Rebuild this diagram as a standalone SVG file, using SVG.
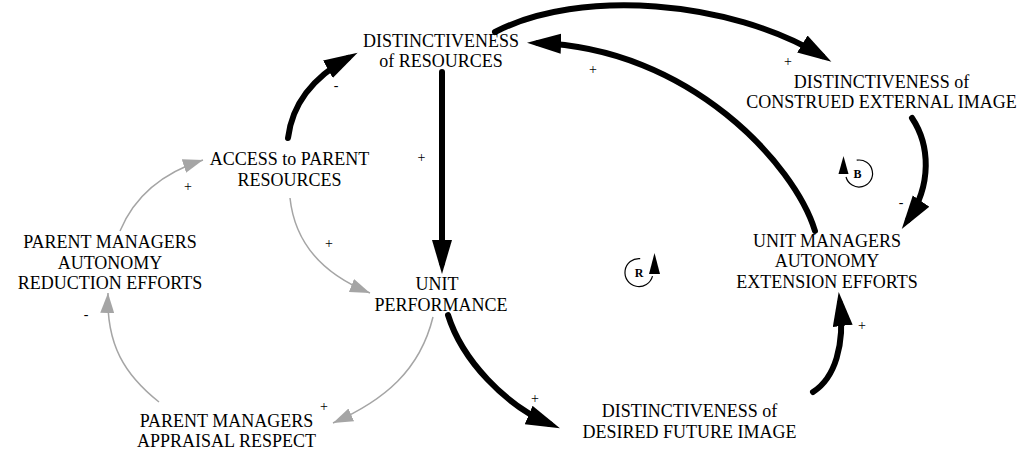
<svg xmlns="http://www.w3.org/2000/svg" width="1021" height="454" viewBox="0 0 1021 454">
<style>
.node text{font-family:"Liberation Serif","Times New Roman",serif;font-size:18px;fill:#000;text-anchor:middle}
.sign{font-family:"Liberation Serif","Times New Roman",serif;font-size:14px;fill:#000;text-anchor:middle}
.thick{fill:none;stroke:#000;stroke-width:6;stroke-linecap:round;marker-end:url(#hk)}
.thin{fill:none;stroke:#a5a5a5;stroke-width:1.5;marker-end:url(#hg)}
.loop path{fill:none;stroke:#000;stroke-width:1.2}
.loop text{font-family:"Liberation Serif","Times New Roman",serif;font-size:12px;font-weight:bold;text-anchor:middle}
</style>
<defs>
<marker id="hk" markerUnits="userSpaceOnUse" markerWidth="36" markerHeight="22" refX="23" refY="10" orient="auto">
<path d="M0,0 L34,10 L0,20 z" fill="#000"/>
</marker>
<marker id="hg" markerUnits="userSpaceOnUse" markerWidth="22" markerHeight="14" refX="20" refY="7" orient="auto">
<path d="M0,0 L20,7 L0,14 z" fill="#a5a5a5"/>
</marker>
</defs>
<rect width="1021" height="454" fill="#fff"/>
<g id="connectors">
<path class="thick" d="M288,138 C292,105 312,78 348,58"/>
<path class="thick" d="M442,72 L442,263"/>
<path class="thick" d="M448,315 C462,360 505,405 549.8,424"/>
<path class="thick" d="M813,392 C835,378 845,345 840,303"/>
<path class="thick" d="M815,231 C795,165 690,48 538,43"/>
<path class="thick" d="M495,32 C580,-12 730,0 822,56"/>
<path class="thick" d="M912,118 C930,145 932,185 908,220"/>
<path class="thin" d="M290,198 C295,245 325,275 370,293"/>
<path class="thin" d="M120,231 C135,195 165,172 203,160"/>
<path class="thin" d="M159,402 C125,375 106,345 108,293"/>
<path class="thin" d="M433,317 C420,370 385,400 333,423"/>
<text class="sign" x="336" y="90">-</text>
<text class="sign" x="421.5" y="161.5">+</text>
<text class="sign" x="329" y="247.5">+</text>
<text class="sign" x="188" y="191">+</text>
<text class="sign" x="86" y="318.5">-</text>
<text class="sign" x="324" y="410.5">+</text>
<text class="sign" x="535" y="403">+</text>
<text class="sign" x="862" y="329.5">+</text>
<text class="sign" x="593" y="74">+</text>
<text class="sign" x="788" y="65.5">+</text>
<text class="sign" x="901" y="206.5">-</text>
</g>
<g id="node-distinctiveness-resources" class="node">
<text x="441" y="47">DISTINCTIVENESS</text>
<text x="441" y="67">of RESOURCES</text>
</g>
<g id="node-construed-external-image" class="node">
<text x="881.5" y="88">DISTINCTIVENESS of</text>
<text x="881.5" y="108">CONSTRUED EXTERNAL IMAGE</text>
</g>
<g id="node-access-parent-resources" class="node">
<text x="289.5" y="165">ACCESS to PARENT</text>
<text x="289.5" y="186">RESOURCES</text>
</g>
<g id="node-parent-autonomy-reduction" class="node">
<text x="110" y="248">PARENT MANAGERS</text>
<text x="110" y="268.5">AUTONOMY</text>
<text x="110" y="289">REDUCTION EFFORTS</text>
</g>
<g id="node-unit-performance" class="node">
<text x="437" y="290">UNIT</text>
<text x="441" y="310.5">PERFORMANCE</text>
</g>
<g id="node-unit-autonomy-extension" class="node">
<text x="827" y="246.5">UNIT MANAGERS</text>
<text x="827" y="267">AUTONOMY</text>
<text x="827" y="287.5">EXTENSION EFFORTS</text>
</g>
<g id="node-desired-future-image" class="node">
<text x="689.5" y="417">DISTINCTIVENESS of</text>
<text x="689.5" y="438">DESIRED FUTURE IMAGE</text>
</g>
<g id="node-parent-appraisal-respect" class="node">
<text x="226.5" y="427">PARENT MANAGERS</text>
<text x="226.5" y="447">APPRAISAL RESPECT</text>
</g>
<g id="loop-R" class="loop">
<path d="M640.2,258.6 A14,14 0 1,0 652.5,276.1"/>
<polygon points="649,274 654.5,253 660,274" fill="#000"/>
<text x="639" y="276.5">R</text>
</g>
<g id="loop-B" class="loop">
<path d="M856.7,160.2 A13.5,13.5 0 1,1 846,177"/>
<polygon points="838.5,174 843.5,156 848.5,174" fill="#000"/>
<text x="857.5" y="177.5">B</text>
</g>
</svg>
